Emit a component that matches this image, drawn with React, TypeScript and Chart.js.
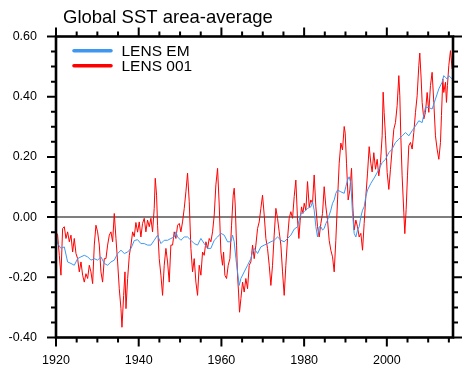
import React, { useEffect, useRef } from "react";
import { Chart, registerables } from "chart.js";

Chart.register(...registerables);

const TITLE = "Global SST area-average";
const SERIES_NAMES = ["LENS EM", "LENS 001"];
const SERIES_COLORS = ["rgb(62,152,242)", "rgb(255,0,0)"];
const xTickLabels = [1920, 1940, 1960, 1980, 2000];
const yTickValues = [-0.4, -0.2, 0, 0.2, 0.4, 0.6];
const X_MIN = 1920;
const X_MAX = 2016;
const Y_MIN = -0.4;
const Y_MAX = 0.6;

// LENS EM (ensemble mean)
const emYears = [
  1920.04, 1920.39, 1921.2, 1922.01, 1922.81, 1923.62, 1924.42, 1925.23, 1926.04, 1926.84,
  1927.65, 1928.45, 1929.26, 1930.06, 1930.87, 1931.68, 1932.48, 1933.29, 1934.09, 1934.9,
  1935.71, 1936.52, 1937.32, 1938.13, 1938.93, 1939.73, 1940.53, 1941.34, 1942.14, 1942.95,
  1943.75, 1944.56, 1945.37, 1946.17, 1946.98, 1947.78, 1948.59, 1948.99, 1949.4, 1950.2,
  1951.01, 1951.81, 1952.62, 1953.42, 1954.23, 1955.04, 1955.84, 1956.65, 1957.45, 1958.26,
  1959.07, 1959.87, 1960.68, 1961.48, 1962.29, 1962.69, 1963.09, 1963.5, 1963.9, 1964.3,
  1964.71, 1965.51, 1966.32, 1967.12, 1967.53, 1967.93, 1968.74, 1969.54, 1970.35, 1971.15,
  1971.96, 1972.76, 1973.57, 1974.38, 1975.18, 1975.99, 1976.79, 1977.6, 1978.41, 1979.21,
  1980.02, 1980.82, 1981.63, 1982.03, 1982.43, 1982.84, 1983.24, 1983.64, 1984.05, 1984.45,
  1984.85, 1985.26, 1985.66, 1986.46, 1986.87, 1987.27, 1987.67, 1988.08, 1988.88, 1989.69,
  1990.09, 1990.49, 1990.9, 1991.3, 1991.7, 1992.1, 1992.51, 1992.91, 1993.31, 1993.72,
  1994.12, 1994.52, 1994.92, 1995.33, 1996.13, 1996.94, 1997.75, 1998.87, 1999.67, 2000.48,
  2001.28, 2002.09, 2002.9, 2003.7, 2004.51, 2005.31, 2006.12, 2006.93, 2007.73, 2008.54,
  2009.34, 2010.15, 2010.95, 2011.76, 2012.57, 2013.37, 2013.77, 2014.18, 2014.58, 2014.98,
  2015.79
];
const emValues = [
  -0.066, -0.088, -0.104, -0.099, -0.149, -0.154, -0.16, -0.138, -0.132, -0.127,
  -0.132, -0.143, -0.138, -0.143, -0.132, -0.154, -0.16, -0.149, -0.143, -0.121,
  -0.11, -0.121, -0.116, -0.104, -0.078, -0.075, -0.088, -0.088, -0.093, -0.093,
  -0.077, -0.06, -0.088, -0.077, -0.077, -0.071, -0.066, -0.049, -0.066, -0.077,
  -0.066, -0.066, -0.077, -0.088, -0.093, -0.071, -0.088, -0.104, -0.104, -0.077,
  -0.066, -0.054, -0.06, -0.082, -0.082, -0.06, -0.082, -0.138, -0.182, -0.227,
  -0.204, -0.182, -0.16, -0.138, -0.116, -0.104, -0.121, -0.099, -0.093, -0.088,
  -0.082, -0.077, -0.066, -0.077, -0.082, -0.071, -0.06, -0.04, -0.032, 0.012,
  0.018, 0.029, 0.034, 0.051, 0.023, -0.032, -0.066, -0.032, -0.032, -0.043,
  -0.038, -0.021, -0.01, 0.023, 0.046, 0.057, 0.079, 0.09, 0.084, 0.079,
  0.101, 0.123, 0.134, 0.112, 0.012, -0.054, -0.066, -0.043, -0.032, 0.001,
  0.023, 0.034, 0.068, 0.09, 0.112, 0.13, 0.15, 0.181, 0.192, 0.214,
  0.226, 0.248, 0.259, 0.27, 0.281, 0.27, 0.287, 0.303, 0.32, 0.314,
  0.365, 0.364, 0.359, 0.392, 0.426, 0.448, 0.47, 0.464, 0.459, 0.47,
  0.459
];

// LENS 001 (single member)
const lensYears = [
  1920.04, 1920.39, 1920.8, 1921.2, 1921.6, 1922.01, 1922.41, 1922.81, 1923.22, 1923.62,
  1924.02, 1924.42, 1924.83, 1925.23, 1925.63, 1926.04, 1926.44, 1926.84, 1927.24, 1927.65,
  1928.05, 1928.45, 1928.86, 1929.26, 1929.66, 1930.06, 1930.47, 1930.87, 1931.27, 1931.68,
  1932.08, 1932.48, 1932.89, 1933.29, 1933.69, 1934.09, 1934.5, 1934.9, 1935.3, 1935.71,
  1935.95, 1936.36, 1936.68, 1936.92, 1937.32, 1937.73, 1938.13, 1938.53, 1938.92, 1939.32,
  1939.73, 1940.13, 1940.53, 1940.93, 1941.34, 1941.74, 1942.14, 1942.55, 1942.95, 1943.35,
  1943.75, 1944.0, 1944.32, 1944.56, 1944.96, 1945.37, 1945.77, 1946.17, 1946.58, 1946.98,
  1947.38, 1947.78, 1948.19, 1948.59, 1948.99, 1949.4, 1949.8, 1950.2, 1950.6, 1951.01,
  1951.41, 1951.81, 1952.22, 1952.62, 1953.02, 1953.42, 1953.83, 1954.23, 1954.63, 1955.04,
  1955.44, 1955.84, 1956.25, 1956.65, 1957.05, 1957.45, 1957.86, 1958.26, 1958.66, 1959.07,
  1959.47, 1959.87, 1960.27, 1960.52, 1960.84, 1961.24, 1961.64, 1962.05, 1962.45, 1962.85,
  1963.09, 1963.34, 1963.66, 1963.9, 1964.14, 1964.38, 1964.71, 1965.11, 1965.51, 1965.91,
  1966.32, 1966.72, 1967.12, 1967.53, 1967.93, 1968.33, 1968.74, 1969.14, 1969.54, 1969.94,
  1970.35, 1970.75, 1971.15, 1971.56, 1971.96, 1972.36, 1972.76, 1973.17, 1973.57, 1973.97,
  1974.38, 1974.78, 1975.18, 1975.58, 1975.99, 1976.39, 1976.79, 1977.2, 1977.6, 1978.0,
  1978.41, 1978.73, 1979.05, 1979.37, 1979.7, 1980.02, 1980.42, 1980.82, 1981.23, 1981.63,
  1982.03, 1982.43, 1982.84, 1983.24, 1983.64, 1984.05, 1984.45, 1984.85, 1985.26, 1985.66,
  1986.06, 1986.46, 1986.87, 1987.27, 1987.67, 1988.08, 1988.48, 1988.88, 1989.28, 1989.69,
  1989.93, 1990.25, 1990.65, 1991.06, 1991.46, 1991.78, 1992.1, 1992.51, 1992.91, 1993.31,
  1993.72, 1994.12, 1994.52, 1994.92, 1995.33, 1995.73, 1996.13, 1996.45, 1996.85, 1997.26,
  1997.66, 1998.06, 1998.46, 1998.87, 1999.11, 1999.35, 1999.67, 2000.08, 2000.48, 2000.88,
  2001.28, 2001.69, 2002.09, 2002.49, 2002.9, 2003.14, 2003.38, 2003.7, 2004.11, 2004.35,
  2004.67, 2004.99, 2005.31, 2005.72, 2006.12, 2006.52, 2006.93, 2007.33, 2007.73, 2007.97,
  2008.3, 2008.54, 2008.94, 2009.34, 2009.75, 2010.15, 2010.55, 2010.95, 2011.36, 2011.76,
  2012.16, 2012.57, 2012.97, 2013.21, 2013.53, 2013.77, 2014.18, 2014.42, 2014.66, 2014.98,
  2015.39, 2015.79
];
const lensValues = [
  -0.05, -0.06, -0.127, -0.193, -0.038, -0.032, -0.071, -0.049, -0.082, -0.06,
  -0.116, -0.071, -0.121, -0.138, -0.182, -0.149, -0.193, -0.216, -0.188, -0.204,
  -0.16, -0.182, -0.221, -0.093, -0.027, -0.049, -0.093, -0.182, -0.216, -0.138,
  -0.138, -0.093, -0.06, -0.049, -0.082, 0.012, -0.071, -0.149, -0.238, -0.304,
  -0.366, -0.26, -0.182, -0.304, -0.204, -0.127, -0.093, -0.049, -0.065, -0.018,
  -0.05, -0.016, -0.066, -0.021, -0.004, -0.049, -0.01, -0.032, -0.004, -0.049,
  0.029, 0.129, 0.073, -0.027, -0.138, -0.193, -0.26, -0.16, -0.104, -0.149,
  -0.216, -0.093, -0.093, -0.049, -0.071, -0.027, -0.021, -0.049, -0.016, 0.029,
  0.084, 0.146, 0.051, -0.104, -0.182, -0.138, -0.216, -0.26, -0.16, -0.193,
  -0.116, -0.127, -0.082, -0.104, -0.071, -0.082, -0.049, 0.007, 0.107, 0.162,
  0.04, -0.116, -0.16, -0.116, -0.193, -0.204, -0.16, -0.138, -0.027, 0.073,
  0.096, 0.04, -0.093, -0.193, -0.249, -0.316, -0.271, -0.216, -0.249, -0.204,
  -0.238, -0.16, -0.149, -0.093, -0.138, -0.093, -0.038, -0.016, 0.029, 0.073,
  0.007, -0.071, -0.104, -0.16, -0.227, -0.16, -0.06, 0.029, -0.004, -0.049,
  -0.093, -0.182, -0.26, -0.16, -0.071, -0.004, 0.018, -0.004, 0.068, 0.123,
  -0.01, -0.071, -0.01, 0.034, 0.012, 0.046, 0.023, 0.118, 0.034, 0.057,
  0.046, 0.14, 0.034, -0.032, -0.066, -0.021, 0.012, 0.101, 0.034, -0.01,
  -0.077, -0.11, -0.132, -0.182, -0.077, 0.057, 0.179, 0.246, 0.223, 0.301,
  0.279, 0.179, 0.057, 0.09, 0.162, 0.034, -0.043, -0.01, -0.032, -0.066,
  -0.054, -0.11, -0.021, 0.068, 0.146, 0.234, 0.179, 0.15, 0.214, 0.159,
  0.192, 0.137, 0.181, 0.27, 0.415, 0.348, 0.27, 0.148, 0.092, 0.159,
  0.226, 0.292, 0.314, 0.37, 0.47, 0.403, 0.27, 0.137, 0.014, -0.055,
  0.026, 0.137, 0.237, 0.248, 0.226, 0.281, 0.348, 0.403, 0.503, 0.545,
  0.459, 0.381, 0.326, 0.348, 0.414, 0.348, 0.437, 0.481, 0.381, 0.27,
  0.226, 0.192, 0.248, 0.337, 0.459, 0.414, 0.448, 0.381, 0.437, 0.503,
  0.553, 0.492
];

const FONT = '"Liberation Sans", Arial, Helvetica, sans-serif';

const nclPlugin = {
  id: "nclFrame",
  beforeDatasetsDraw(chart: any) {
    const { ctx, chartArea, scales } = chart;
    const py = scales.y.getPixelForValue(0);
    ctx.save();
    ctx.strokeStyle = "#7f7f7f";
    ctx.lineWidth = 2;
    ctx.beginPath();
    ctx.moveTo(chartArea.left, py);
    ctx.lineTo(chartArea.right, py);
    ctx.stroke();
    ctx.restore();
  },
  afterDraw(chart: any) {
    const { ctx, chartArea, scales } = chart;
    const { left, right, top, bottom } = chartArea;
    const xs = scales.x;
    const ys = scales.y;
    ctx.save();
    ctx.strokeStyle = "#000";
    ctx.lineCap = "butt";
    // ticks
    ctx.lineWidth = 2;
    const major = 9;
    const minor = 5;
    ctx.beginPath();
    for (let v = X_MIN; v <= X_MAX + 1e-6; v += 5) {
      const isMajor = xTickLabels.includes(v);
      const len = isMajor ? major : minor;
      const px = xs.getPixelForValue(v);
      ctx.moveTo(px, bottom);
      ctx.lineTo(px, bottom + len);
      ctx.moveTo(px, top);
      ctx.lineTo(px, top - len);
    }
    for (let k = 0; k <= 20; k++) {
      const v = Y_MIN + k * 0.05;
      const isMajor = k % 4 === 0;
      const len = isMajor ? major : minor;
      const py = ys.getPixelForValue(v);
      ctx.moveTo(left, py);
      ctx.lineTo(left - len, py);
      ctx.moveTo(right, py);
      ctx.lineTo(right + len, py);
    }
    ctx.stroke();
    // frame
    ctx.lineWidth = 2.6;
    ctx.strokeRect(left, top, right - left, bottom - top);

    // title
    ctx.fillStyle = "#000";
    ctx.textAlign = "left";
    ctx.textBaseline = "alphabetic";
    ctx.font = `18.5px ${FONT}`;
    ctx.fillText(TITLE, 63, 22.5);

    // legend
    const lineYs = [50.7, 65.7];
    const textYs = [56.2, 71.4];
    ctx.font = `15.5px ${FONT}`;
    for (let i = 0; i < SERIES_NAMES.length; i++) {
      ctx.strokeStyle = SERIES_COLORS[i];
      ctx.lineWidth = 3.6;
      ctx.lineCap = "round";
      ctx.beginPath();
      ctx.moveTo(74, lineYs[i]);
      ctx.lineTo(111, lineYs[i]);
      ctx.stroke();
      ctx.fillText(SERIES_NAMES[i], 121.5, textYs[i]);
    }
    ctx.restore();
  },
};

export default function App() {
  const canvasRef = useRef<HTMLCanvasElement | null>(null);

  useEffect(() => {
    const canvas = canvasRef.current;
    if (!canvas) return;
    const chart = new Chart(canvas, {
      type: "line",
      data: {
        datasets: [
          {
            label: SERIES_NAMES[0],
            data: emYears.map((x, i) => ({ x, y: emValues[i] })),
            borderColor: SERIES_COLORS[0],
            borderWidth: 1,
            pointRadius: 0,
            tension: 0,
            fill: false,
          },
          {
            label: SERIES_NAMES[1],
            data: lensYears.map((x, i) => ({ x, y: lensValues[i] })),
            borderColor: SERIES_COLORS[1],
            borderWidth: 1,
            pointRadius: 0,
            tension: 0,
            fill: false,
          },
        ],
      },
      options: {
        animation: false,
        responsive: false,
        devicePixelRatio: 1,
        layout: { padding: { top: 36.5, right: 18, left: 0, bottom: 0 } },
        plugins: {
          legend: { display: false },
          title: { display: false },
          tooltip: { enabled: false },
        },
        scales: {
          x: {
            type: "linear",
            min: X_MIN,
            max: X_MAX,
            afterBuildTicks: (s: any) => {
              s.ticks = xTickLabels.map((v) => ({ value: v }));
            },
            afterFit: (s: any) => {
              s.height = 36.5;
            },
            grid: { display: false, drawTicks: false },
            border: { display: false },
            ticks: {
              autoSkip: false,
              maxRotation: 0,
              padding: 16,
              color: "#000",
              font: { family: FONT, size: 12.5 },
              callback: (v: any) => String(v),
            },
          },
          y: {
            type: "linear",
            min: Y_MIN,
            max: Y_MAX,
            afterBuildTicks: (s: any) => {
              s.ticks = yTickValues.map((v) => ({ value: v }));
            },
            afterFit: (s: any) => {
              s.width = 56;
            },
            grid: { display: false, drawTicks: false },
            border: { display: false },
            ticks: {
              padding: 19,
              color: "#000",
              font: { family: FONT, size: 12.5 },
              callback: (v: any) => Number(v).toFixed(2),
            },
          },
        },
      },
      plugins: [nclPlugin],
    });
    return () => chart.destroy();
  }, []);

  return (
    <div style={{ position: "absolute", left: 0, top: 0, width: 471, height: 374, background: "#fff" }}>
      <canvas ref={canvasRef} width={471} height={374} style={{ width: 471, height: 374, display: "block" }} />
    </div>
  );
}
